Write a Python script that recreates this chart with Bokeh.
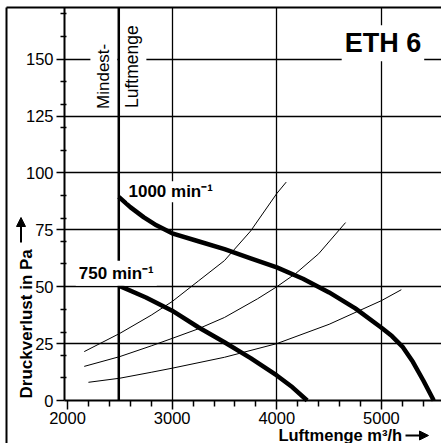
from bokeh.plotting import figure
from bokeh.models import Range1d, FixedTicker, Label, Grid, Arrow, NormalHead
from bokeh.embed import file_html
from bokeh.resources import INLINE

# ---- data ----
rpm1000_x = [2490, 2600, 2730, 2850, 3000, 3250, 3500, 3750, 4000, 4250, 4500, 4750, 5000, 5100, 5200, 5300, 5400, 5500]
rpm1000_y = [89.5, 85.0, 80.5, 77.0, 73.5, 70.0, 66.5, 62.5, 58.5, 53.5, 47.5, 40.5, 32.0, 28.3, 23.7, 17.0, 8.8, 0.0]

rpm750_x = [2490, 2750, 3000, 3250, 3500, 3750, 4000, 4150, 4290]
rpm750_y = [50.5, 45.3, 39.5, 32.2, 25.6, 18.6, 11.0, 5.8, 0.0]

sysA_x = [2160, 2500, 2800, 3000, 3250, 3500, 3750, 4000, 4090]
sysA_y = [21.5, 29.5, 37.5, 43.5, 52.5, 61.5, 74.5, 91.0, 96.0]

sysB_x = [2160, 2500, 2800, 3000, 3250, 3500, 3816, 4000, 4180, 4400, 4657]
sysB_y = [15.0, 19.3, 24.0, 27.3, 31.5, 36.5, 44.7, 50.0, 55.8, 64.5, 78.2]

sysC_x = [2200, 2500, 2800, 3000, 3500, 4000, 4500, 5000, 5190]
sysC_y = [8.0, 9.8, 12.4, 14.2, 19.0, 25.0, 33.5, 43.9, 48.7]

min_airflow = 2490

x_ticks = [2000, 3000, 4000, 5000]
x_minor = [2200, 2400, 2600, 2800, 3200, 3400, 3600, 3800, 4200, 4400, 4600, 4800, 5200, 5400]
y_ticks = [0, 25, 50, 75, 100, 125, 150]
y_minor = [10, 20, 30, 40, 60, 70, 80, 90, 110, 120, 130, 140, 160, 170]
x_grid = [3000, 4000, 5000]
y_grid = [25, 50, 75, 100, 125, 150]

FONT = "Liberation Sans"

# plot area limits (data units) and the page area around it
X0, X1 = 1971.3, 5573.8
Y0, Y1 = 0.0, 172.75
PAGE_X0, PAGE_Y0 = 1359.8, -18.9
BORDER_X = 1417.1

p = figure(width=441, height=443, output_backend="svg", toolbar_location=None,
           x_range=Range1d(PAGE_X0, X1), y_range=Range1d(PAGE_Y0, 175.82))
p.min_border = 0
p.min_border_left = 0
p.min_border_right = 0
p.min_border_top = 0
p.min_border_bottom = 0
p.outline_line_color = None
p.background_fill_color = "white"
p.border_fill_color = "white"

# axes placed at the plot corner
p.xaxis.fixed_location = Y0
p.yaxis.fixed_location = X0
p.xaxis.bounds = (X0, X1)
p.yaxis.bounds = (Y0, Y1)
for ax in (p.xaxis[0], p.yaxis[0]):
    ax.axis_line_width = 2
    ax.axis_line_color = "black"
    ax.major_tick_line_color = "black"
    ax.minor_tick_line_color = "black"
    ax.major_tick_line_width = 1.5
    ax.minor_tick_line_width = 1.5
    ax.major_label_text_font = FONT
    ax.major_label_text_font_size = "16.5px"
    ax.major_label_text_color = "black"
    ax.major_tick_in = 0

p.xaxis.ticker = FixedTicker(ticks=x_ticks, minor_ticks=x_minor)
p.yaxis.ticker = FixedTicker(ticks=y_ticks, minor_ticks=y_minor)
p.xaxis.major_tick_out = 9
p.xaxis.minor_tick_out = 6
p.xaxis.minor_tick_in = 0
p.xaxis.major_label_standoff = 2
p.yaxis.major_tick_out = 8
p.yaxis.minor_tick_out = 4
p.yaxis.minor_tick_in = 2
p.yaxis.major_label_standoff = 3

has_cross = "cross_bounds" in Grid.properties()
p.xgrid.ticker = FixedTicker(ticks=x_grid)
p.ygrid.ticker = FixedTicker(ticks=y_grid)
if has_cross:
    p.xgrid.cross_bounds = (Y0, Y1)
    p.ygrid.cross_bounds = (X0, X1)
    for g in (p.xgrid[0], p.ygrid[0]):
        g.grid_line_color = "black"
        g.grid_line_width = 1.3
        g.grid_line_alpha = 1.0
else:
    p.xgrid.visible = False
    p.ygrid.visible = False
    p.segment(x0=x_grid, y0=[Y0] * len(x_grid), x1=x_grid, y1=[Y1] * len(x_grid),
              line_color="black", line_width=1.3, level="underlay")
    p.segment(x0=[X0] * len(y_grid), y0=y_grid, x1=[X1] * len(y_grid), y1=y_grid,
              line_color="black", line_width=1.3, level="underlay")

# rotated labels at the minimum-airflow line (white box hides grid behind)
p.add_layout(Label(x=2347.8, y=126.4, text="Mindest-", angle=90, angle_units="deg",
                   text_font=FONT, text_font_size="17px", text_color="black",
                   text_baseline="alphabetic", text_align="left",
                   background_fill_color="white", padding=4, level="underlay"))
p.add_layout(Label(x=2620.0, y=126.8, text="Luftmenge", angle=90, angle_units="deg",
                   text_font=FONT, text_font_size="17.5px", text_color="black",
                   text_baseline="alphabetic", text_align="left",
                   background_fill_color="white", padding=4, level="underlay"))

# outer page frame (left and top)
p.segment(x0=[BORDER_X, BORDER_X], y0=[PAGE_Y0, Y1], x1=[BORDER_X, X1], y1=[Y1, Y1],
          line_color="black", line_width=2)

# minimum airflow line
p.segment(x0=[min_airflow], y0=[Y0], x1=[min_airflow], y1=[Y1],
          line_color="black", line_width=2.5)

# system curves (thin)
for xs, ys in ((sysA_x, sysA_y), (sysB_x, sysB_y), (sysC_x, sysC_y)):
    p.line(xs, ys, line_color="black", line_width=1)

# fan curves (thick)
p.line(rpm1000_x, rpm1000_y, line_color="black", line_width=4.5)
p.line(rpm750_x, rpm750_y, line_color="black", line_width=4.5)

p.add_layout(Label(x=5408.5, y=157.0, text="ETH 6", text_font=FONT, text_font_size="27px",
                   text_font_style="bold", text_color="black", text_align="right",
                   text_baseline="alphabetic", background_fill_color="white", padding=3))

p.add_layout(Label(x=2573.3, y=91.8, text="1000 min⁻¹", text_font=FONT, text_font_size="17px",
                   text_font_style="bold", text_color="black", text_align="left",
                   text_baseline="alphabetic", background_fill_color="white", padding=1))

p.add_layout(Label(x=2079.3, y=55.96, text="750 min⁻¹", text_font=FONT, text_font_size="17px",
                   text_font_style="bold", text_color="black", text_align="left",
                   text_baseline="alphabetic", background_fill_color="white", padding=3))

# axis titles with arrows
p.add_layout(Label(x=1607.3, y=0.88, text="Druckverlust in Pa", angle=90, angle_units="deg",
                   text_font=FONT, text_font_size="17px", text_font_style="bold",
                   text_color="black", text_align="left", text_baseline="alphabetic"))
p.add_layout(Arrow(x_start=1555.7, y_start=69.45, x_end=1555.7, y_end=80.44,
                   line_color="black", line_width=2,
                   end=NormalHead(size=9, fill_color="black", line_color="black", line_width=1)))
p.add_layout(Label(x=5198.3, y=-15.3, text="Luftmenge m³/h", text_font=FONT,
                   text_font_size="16.5px", text_font_style="bold", text_color="black",
                   text_align="right", text_baseline="alphabetic"))
p.add_layout(Arrow(x_start=5229.8, y_start=-15.38, x_end=5449.6, y_end=-15.38,
                   line_color="black", line_width=2,
                   end=NormalHead(size=9, fill_color="black", line_color="black", line_width=1)))

open("out.html", "w").write(file_html(p, INLINE))
